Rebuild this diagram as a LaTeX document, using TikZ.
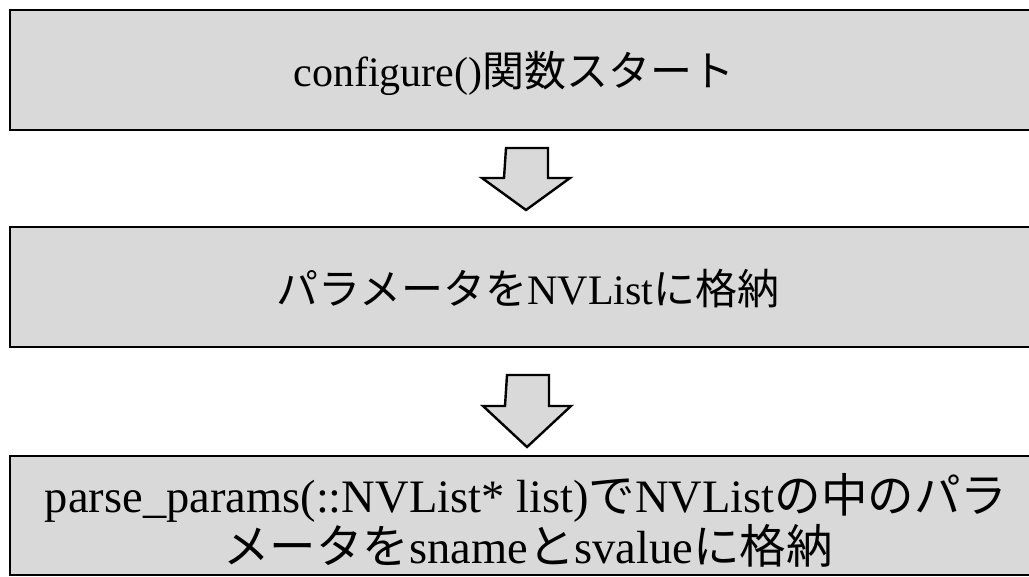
\documentclass[tikz,border=0pt]{standalone}
\usepackage{fontspec}
\setmainfont{Liberation Serif}
\newfontfamily\jp{Noto Sans CJK JP}
\tikzset{
  stepbox/.style={draw=black, line width=2.6pt, fill=boxgray},
  blockarrow/.style={draw=black, line width=2.4pt, fill=boxgray, line join=miter},
  label/.style={anchor=base, inner sep=0pt, font=\fontsize{42}{50}\selectfont},
  biglabel/.style={label, font=\fontsize{46.5}{52}\selectfont},
}
\definecolor{boxgray}{HTML}{D9D9D9}
\begin{document}
\begin{tikzpicture}[x=1pt, y=-1pt]
\useasboundingbox (0,0) rectangle (1029,577);
\begin{scope}
\clip (0,0) rectangle (1029,577);
\draw[stepbox] (10,10) rectangle (1045,130);
\draw[stepbox] (10,227) rectangle (1045,347);
\draw[stepbox] (10,456) rectangle (1045,575);
\end{scope}
% block arrows
\coordinate (a1) at (527,148);
\draw[blockarrow] (a1) ++(-21,0) -- ++(42,0) -- ++(0,30) -- ++(22,0) -- ++(-44,32) -- ++(-44,-32) -- ++(22,0) -- cycle;
\coordinate (a2) at (528,375);
\draw[blockarrow] (a2) ++(-21,0) -- ++(42,0) -- ++(0,31) -- ++(22,0) -- ++(-44,41) -- ++(-44,-41) -- ++(22,0) -- cycle;
% texts
\node[label] (t1) at (514,87) {configure(){\jp 関数スタート}};
\node[label] (t2) at (528,305) {{\jp パラメータを}NVList{\jp に格納}};
\node[biglabel] (t3) at (526,512) {parse\_params(::NVList* list){\jp で}NVList{\jp の中のパラ}};
\node[biglabel] (t4) at (528,563) {{\jp メータを}sname{\jp と}svalue{\jp に格納}};
\end{tikzpicture}
\end{document}
